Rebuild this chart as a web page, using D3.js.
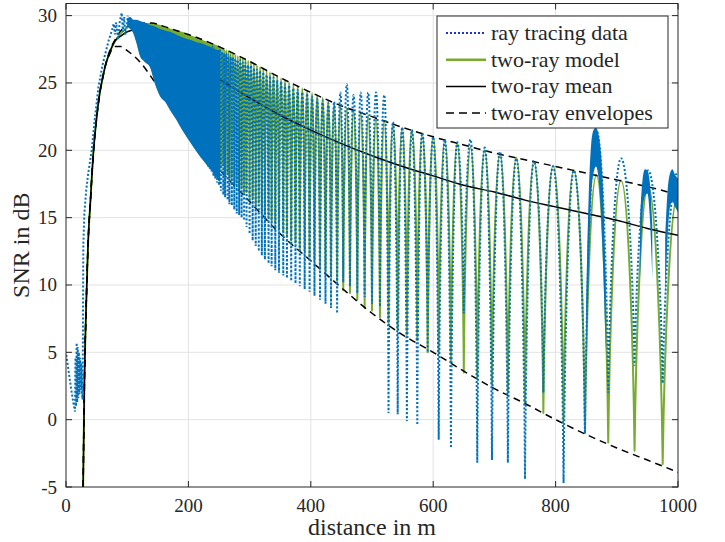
<!DOCTYPE html>
<html>
<head>
<meta charset="utf-8">
<script src="https://cdn.jsdelivr.net/npm/d3@7"></script>
<style>
  body { margin: 0; background: #fff; }
  text { font-family: "Liberation Serif", "Times New Roman", serif; fill: #262626; }
</style>
</head>
<body>
<svg id="chart" width="725" height="542"></svg>
<script>
// smooth two-ray curves (mean and envelopes), distance in m / SNR in dB
const envD     = [28, 30, 33, 36, 40, 45, 50, 55, 60, 65, 70, 80, 90, 100, 120, 140, 160, 180, 200, 250, 300, 350, 400, 450, 500, 550, 600, 650, 700, 750, 800, 850, 900, 950, 1000];
const meanSNR  = [-5, 2.5, 8.5, 13.0, 16.3, 20.0, 22.4, 24.2, 25.4, 26.4, 27.1, 28.1, 28.5, 28.8, 29.0, 28.8, 28.3, 27.7, 27.0, 25.3, 23.9, 22.6, 21.5, 20.5, 19.6, 18.8, 18.1, 17.4, 16.9, 16.3, 15.8, 15.3, 14.8, 14.2, 13.7];
const upperSNR = [-5, 2.5, 8.5, 13.0, 16.3, 20.0, 22.4, 24.2, 25.4, 26.4, 27.2, 28.2, 28.9, 29.2, 29.45, 29.45, 29.2, 28.9, 28.6, 27.7, 26.6, 25.4, 24.3, 23.3, 22.5, 21.7, 21.0, 20.4, 19.8, 19.3, 18.8, 18.3, 17.8, 17.3, 16.7];
const lowerSNR = [-5, 2.5, 8.5, 13.0, 16.3, 20.0, 22.4, 24.2, 25.4, 26.4, 27.0, 27.7, 27.7, 27.4, 26.6, 25.4, 24.0, 22.6, 21.3, 18.6, 16.2, 13.8, 11.8, 9.8, 7.9, 6.3, 5.0, 3.6, 2.3, 1.2, 0.0, -1.1, -2.1, -3.0, -3.9];

// near field (before the fading gets dense)
const modelNearD   = [28, 30, 33, 36, 40, 45, 50, 55, 60, 65, 70, 80, 90, 100];
const modelNearSNR = [-5, 2.5, 8.5, 13.0, 16.3, 20.0, 22.4, 24.2, 25.4, 26.4, 27.1, 28.1, 28.7, 29.1];
const rayNearD   = [0.5, 4, 8, 11.5, 14.7, 15.5, 16.5, 17.4, 18.3, 19.2, 20.1, 21, 22, 23, 24, 25, 26, 27, 27.6, 28.3, 30, 33, 36, 42, 47, 53, 60, 66, 70, 75, 78, 80, 82, 85, 88, 91, 93, 95, 97, 99, 101];
const rayNearSNR = [4.8, 3.7, 2.4, 1.4, 0.6, 4.6, 1.0, 5.7, 1.3, 5.4, 1.6, 5.0, 1.9, 4.6, 2.2, 4.2, 2.0, 1.5, 6.0, 13.0, 15.3, 17.0, 18.2, 20.0, 22.3, 24.7, 26.4, 27.5, 28.2, 28.9, 29.4, 28.6, 29.5, 28.2, 29.6, 30.2, 28.8, 29.9, 28.6, 29.1, 30.0];

// dense fading region, read as a band
const bandD         = [100, 105, 110, 115, 121, 128, 137, 145, 154, 162, 170, 180, 190, 203, 215, 225, 234, 243, 252];
const modelBandTop  = [29.2, 29.3, 29.4, 29.45, 29.45, 29.45, 29.45, 29.4, 29.3, 29.2, 29.05, 28.9, 28.8, 28.55, 28.35, 28.15, 28.0, 27.85, 27.7];
const rayBandTop    = [29.8, 29.9, 29.7, 29.7, 29.6, 29.5, 29.3, 29.2, 29.0, 28.9, 28.8, 28.6, 28.4, 28.2, 28.0, 27.9, 27.7, 27.5, 27.3];
const rayBandBottom = [29.2, 29.0, 28.7, 28.0, 27.0, 26.6, 26.2, 25.0, 24.0, 23.6, 23.0, 22.3, 21.5, 20.6, 19.8, 19.2, 18.7, 18.2, 17.6];

// single fading lobes: trough positions and the peak that follows each
const troughD = [232, 235, 238, 241, 244, 247, 250, 253, 257, 260,
  264, 267, 271, 275, 279, 283, 287, 291, 295, 300,
  305, 310, 315, 320, 325, 331, 336, 342, 348, 355,
  361, 368, 375, 382, 390, 398, 406, 415, 424, 433,
  443, 453, 464, 476, 488, 500, 513, 527, 542, 557,
  574, 591, 609, 629, 650, 672, 696, 722, 750, 780,
  813, 848, 886, 929, 975];
const peakD = [233.5, 236.4, 239.3, 242.2, 245.3, 248.4, 251.6, 254.9, 258.3, 261.7,
  265.3, 269.0, 272.7, 276.6, 280.6, 284.7, 288.9, 293.2, 297.7, 302.3,
  307.1, 312.0, 317.1, 322.3, 327.7, 333.3, 339.1, 345.1, 351.4, 357.8,
  364.5, 371.4, 378.6, 386.1, 393.9, 402.1, 410.5, 419.4, 428.6, 438.2,
  448.3, 458.8, 469.9, 481.5, 493.7, 506.5, 520.0, 534.2, 549.3, 565.2,
  582.1, 600.0, 619.0, 639.3, 661.0, 684.2, 709.1, 735.8, 764.7, 795.9,
  829.8, 866.7, 907.0, 951.2, 1000];
const modelTroughSNR = [20.1, 19.6, 19.9, 19.3, 19.5, 19.0, 19.2, 18.7, 18.9, 18.3,
  18.3, 17.9, 18.0, 17.5, 17.6, 17.2, 17.3, 16.8, 16.9, 16.4,
  16.5, 15.9, 16.1, 15.4, 15.3, 15.1, 14.8, 14.6, 14.2, 14.0,
  13.7, 13.3, 13.2, 12.7, 12.6, 12.1, 11.9, 11.4, 11.1, 10.7,
  10.3, 9.6, 9.4, 8.9, 8.3, 8.1, 7.6, 7.2, 6.7, 6.3,
  5.9, 5.0, 4.9, 4.4, 3.5, 3.2, 2.6, 2.0, 1.3, 0.5,
  -0.1, -1.0, -1.7, -2.3, -3.3];
const modelPeakSNR = [28.0, 27.95, 27.9, 27.85, 27.8, 27.75, 27.7, 27.6, 27.5, 27.45,
  27.4, 27.3, 27.2, 27.1, 27.0, 26.95, 26.85, 26.75, 26.65, 26.55,
  26.45, 26.3, 26.2, 26.1, 25.95, 25.8, 25.65, 25.5, 25.35, 25.2,
  25.05, 24.9, 24.75, 24.6, 24.45, 24.25, 24.1, 23.9, 23.7, 23.5,
  23.35, 23.15, 22.95, 22.8, 22.6, 22.4, 22.2, 21.95, 21.7, 21.5,
  21.25, 21.0, 20.75, 20.5, 20.25, 20.0, 19.7, 19.45, 19.15, 18.85,
  18.5, 18.15, 17.75, 17.3, 16.7];
const rayTroughSNR = [18.8, 18.6, 18.4, 18.1, 17.9, 17.6, 17.4, 17.0, 16.7, 16.5,
  16.3, 16.0, 15.9, 15.6, 15.3, 15.2, 15.0, 14.8, 14.3, 13.8,
  13.3, 12.9, 12.5, 12.2, 11.9, 11.6, 11.4, 11.1, 10.9, 10.7,
  10.5, 10.3, 10.1, 9.9, 9.7, 9.5, 9.2, 8.9, 8.6, 8.3,
  7.9, 10.2, 9.9, 9.4, 9.1, 8.6, 8.4, 0.5, 0.4, -0.1,
  -0.4, 5.0, -1.5, -2.1, 7.9, -3.2, -3.0, -3.2, -4.4, 2.0,
  -4.7, -1.0, 2.0, 4.0, 2.7];
const rayPeakSNR = [27.7, 27.6, 27.7, 27.5, 27.5, 27.4, 27.5, 27.3, 27.2, 27.2,
  27.1, 27.0, 26.9, 26.8, 26.7, 26.7, 26.5, 26.5, 26.3, 26.3,
  26.1, 26.0, 25.9, 25.8, 25.6, 25.5, 25.4, 25.2, 25.1, 24.9,
  24.8, 24.6, 24.5, 24.3, 24.2, 24.0, 23.8, 23.7, 23.5, 23.6,
  24.3, 24.9, 24.1, 24.3, 24.3, 24.3, 24.1, 22.1, 21.7, 21.5,
  21.3, 21.0, 20.8, 20.6, 20.8, 20.2, 19.9, 19.4, 19.2, 18.8,
  18.5, 21.5, 19.4, 18.5, 18.4];

// fast small-scale fading on a few far lobes (null separates lobes)
const fuzzD      = [850, 854, 858, 862, 866, 870, 874, 878, 882, null, 938, 942, 946, 950, 954, 958, null, 979, 983, 987, 991, 995, 1000];
const fuzzTop    = [9.0, 16.5, 20.4, 21.5, 21.7, 21.2, 19.8, 16.5, 10.0, null, 15.0, 17.8, 18.6, 18.5, 17.6, 14.5, null, 13.5, 17.0, 18.3, 18.6, 18.2, 17.9];
const fuzzBottom = [4.0, 11.0, 16.5, 18.3, 18.8, 18.0, 15.5, 11.0, 5.0, null, 10.5, 15.2, 16.6, 16.8, 15.0, 10.5, null, 9.0, 13.5, 15.8, 16.2, 15.8, 15.4];

const xTicks = [0, 200, 400, 600, 800, 1000];
const yTicks = [-5, 0, 5, 10, 15, 20, 25, 30];
const legendLabels = ["ray tracing data", "two-ray model", "two-ray mean", "two-ray envelopes"];

const blue = "#0072BD", green = "#77AC30", black = "#000000";

const svg = d3.select("#chart");
const x = d3.scaleLinear().domain([0, 1000]).range([66, 678]);
const y = d3.scaleLinear().domain([-5, 30.9]).range([487, 3.5]);

svg.append("defs").append("clipPath").attr("id", "plotclip")
  .append("rect")
  .attr("x", x(0)).attr("y", y(30.9))
  .attr("width", x(1000) - x(0)).attr("height", y(-5) - y(30.9));

// grid
const grid = svg.append("g").attr("stroke", "#e3e3e3").attr("stroke-width", 1);
grid.selectAll(".gx").data(xTicks.slice(1, -1)).enter().append("line")
  .attr("x1", d => x(d)).attr("x2", d => x(d))
  .attr("y1", y(-5)).attr("y2", y(30.9));
grid.selectAll(".gy").data(yTicks.slice(1)).enter().append("line")
  .attr("x1", x(0)).attr("x2", x(1000))
  .attr("y1", d => y(d)).attr("y2", d => y(d));

const plot = svg.append("g").attr("clip-path", "url(#plotclip)");

// lobes drawn as arches: round tops, sharp notches
function archPath(tD, tV, pD, pV) {
  const p = d3.path();
  let prev = null, prevTrough = false;
  tD.forEach((d, i) => {
    [[x(d), y(tV[i]), true], [x(pD[i]), y(pV[i]), false]].forEach(([px, py, isTrough]) => {
      if (!prev) {
        p.moveTo(px, py);
      } else {
        const [ax, ay] = prev, w = px - ax;
        if (prevTrough) {
          p.bezierCurveTo(ax + 0.1 * w, py + 0.6 * (ay - py), ax + 0.5 * w, py, px, py);
        } else {
          p.bezierCurveTo(ax + 0.5 * w, ay, ax + 0.9 * w, ay + 0.6 * (py - ay), px, py);
        }
      }
      prev = [px, py];
      prevTrough = isTrough;
    });
  });
  return p.toString();
}

const line = d3.line().x(d => x(d[0])).y(d => y(d[1]));
const smooth = d3.line().x(d => x(d[0])).y(d => y(d[1])).curve(d3.curveMonotoneX);
const zip = (a, b) => a.map((v, i) => [v, b[i]]);
const band = d3.area()
  .defined(p => p.d !== null)
  .x(p => x(p.d)).y0(p => y(p.bottom)).y1(p => y(p.top))
  .curve(d3.curveMonotoneX);

// two-ray model
plot.append("path")
  .datum(zip(modelNearD, modelNearSNR))
  .attr("d", smooth).attr("fill", "none")
  .attr("stroke", green).attr("stroke-width", 2);
plot.append("path")
  .datum(bandD.map((d, i) => ({ d, top: modelBandTop[i], bottom: rayBandBottom[i] })))
  .attr("d", band)
  .attr("fill", green);
plot.append("path")
  .attr("d", archPath(troughD, modelTroughSNR, peakD, modelPeakSNR))
  .attr("fill", "none").attr("stroke", green).attr("stroke-width", 2)
  .attr("stroke-linejoin", "round");

// mean and envelopes
plot.append("path")
  .datum(zip(envD, meanSNR))
  .attr("d", smooth).attr("fill", "none")
  .attr("stroke", black).attr("stroke-width", 1.5);
[upperSNR, lowerSNR].forEach(v => {
  plot.append("path")
    .datum(zip(envD, v))
    .attr("d", smooth).attr("fill", "none")
    .attr("stroke", black).attr("stroke-width", 1.5)
    .attr("stroke-dasharray", "7,5");
});

// ray tracing data
plot.append("path")
  .datum(zip(rayNearD, rayNearSNR))
  .attr("d", line).attr("fill", "none")
  .attr("stroke", blue).attr("stroke-width", 2).attr("stroke-dasharray", "2,2");
plot.append("path")
  .datum(bandD.map((d, i) => ({ d, top: rayBandTop[i], bottom: rayBandBottom[i] })))
  .attr("d", band)
  .attr("fill", blue);
plot.append("path")
  .attr("d", archPath(troughD, rayTroughSNR, peakD, rayPeakSNR))
  .attr("fill", "none").attr("stroke", blue).attr("stroke-width", 2)
  .attr("stroke-dasharray", "2,2");
plot.append("path")
  .datum(fuzzD.map((d, i) => ({ d, top: fuzzTop[i], bottom: fuzzBottom[i] })))
  .attr("d", band)
  .attr("fill", blue);

// axes box and ticks
const axis = svg.append("g").attr("stroke", "#262626").attr("stroke-width", 1);
axis.append("rect")
  .attr("x", x(0)).attr("y", y(30.9))
  .attr("width", x(1000) - x(0)).attr("height", y(-5) - y(30.9))
  .attr("fill", "none");
xTicks.forEach(t => {
  axis.append("line").attr("x1", x(t)).attr("x2", x(t)).attr("y1", y(-5)).attr("y2", y(-5) - 6);
  axis.append("line").attr("x1", x(t)).attr("x2", x(t)).attr("y1", y(30.9)).attr("y2", y(30.9) + 6);
});
yTicks.forEach(t => {
  axis.append("line").attr("x1", x(0)).attr("x2", x(0) + 6).attr("y1", y(t)).attr("y2", y(t));
  axis.append("line").attr("x1", x(1000)).attr("x2", x(1000) - 6).attr("y1", y(t)).attr("y2", y(t));
});

svg.selectAll(".xl").data(xTicks).enter().append("text")
  .attr("x", d => x(d)).attr("y", 512)
  .attr("text-anchor", "middle").attr("font-size", 19)
  .text(d => d);
svg.selectAll(".yl").data(yTicks).enter().append("text")
  .attr("x", 57).attr("y", d => y(d) + 6.5)
  .attr("text-anchor", "end").attr("font-size", 19)
  .text(d => d);

svg.append("text")
  .attr("x", x(500)).attr("y", 535)
  .attr("text-anchor", "middle").attr("font-size", 24)
  .text("distance in m");
svg.append("text")
  .attr("transform", `translate(29,${(y(-5) + y(30.9)) / 2}) rotate(-90)`)
  .attr("text-anchor", "middle").attr("font-size", 24)
  .text("SNR in dB");

// legend
const lg = svg.append("g");
lg.append("rect")
  .attr("x", 437).attr("y", 16).attr("width", 231).attr("height", 112)
  .attr("fill", "#fff").attr("stroke", "#262626").attr("stroke-width", 1);
const legendStyles = [
  { color: "#1a2fe6", dash: "2,2", width: 2 },
  { color: green, dash: null, width: 2.5 },
  { color: black, dash: null, width: 1.5 },
  { color: black, dash: "8,5", width: 1.5 }
];
legendLabels.forEach((label, i) => {
  const cy = 33 + i * 26.7;
  lg.append("line")
    .attr("x1", 446).attr("x2", 486).attr("y1", cy).attr("y2", cy)
    .attr("stroke", legendStyles[i].color).attr("stroke-width", legendStyles[i].width)
    .attr("stroke-dasharray", legendStyles[i].dash);
  lg.append("text")
    .attr("x", 491).attr("y", cy + 7)
    .attr("font-size", 22)
    .text(label);
});
</script>
</body>
</html>
